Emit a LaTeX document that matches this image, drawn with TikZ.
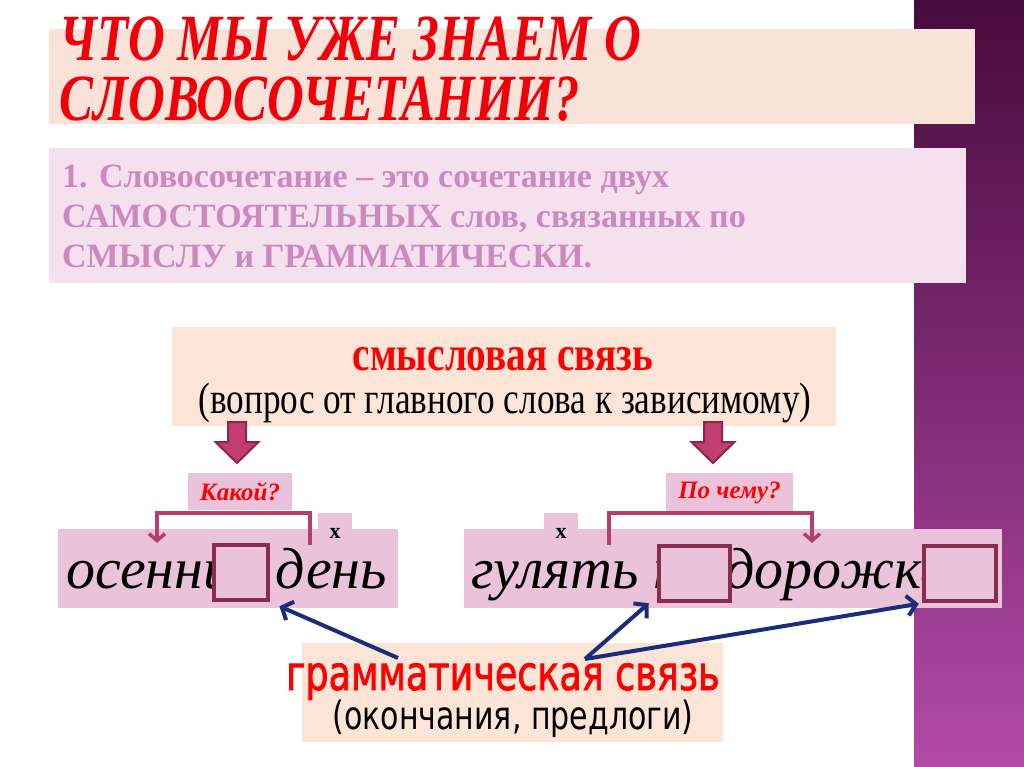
\documentclass[tikz,border=0pt]{standalone}
\usepackage{fontspec}
\setmainfont{Liberation Serif}
\newfontfamily\narrowserif[FakeStretch=0.8]{Liberation Serif}
\newfontfamily\titleserif[FakeStretch=0.77]{Liberation Serif}
\newfontfamily\narrowsans[FakeStretch=0.77]{DejaVu Sans}
\newfontfamily\heavysans[FakeStretch=0.76, FakeBold=1.5]{DejaVu Sans}
\usetikzlibrary{arrows.meta}
\definecolor{titlebg}{HTML}{F9E2D8}
\definecolor{titlered}{HTML}{F2000A}
\definecolor{defbg}{HTML}{F5E0EE}
\definecolor{deftext}{HTML}{CC88BF}
\definecolor{sensebg}{HTML}{FCE5D6}
\definecolor{wordbg}{HTML}{EAC2DA}
\definecolor{endedge}{HTML}{8B2B4F}
\definecolor{bracketc}{HTML}{B63E6C}
\definecolor{arrowfill}{HTML}{C23E6F}
\definecolor{arrowedge}{HTML}{8E2453}
\definecolor{bluec}{HTML}{1A2D78}
\definecolor{stripdark}{HTML}{470A3C}
\definecolor{striplight}{HTML}{B24AA8}
\tikzstyle{panel}=[inner sep=0pt, outer sep=0pt, anchor=north west]
\tikzstyle{qbox}=[fill=wordbg, inner sep=0pt, text=red, font=\bfseries\itshape\fontsize{25}{25}\selectfont]
\tikzstyle{xmark}=[inner sep=0pt, font=\bfseries\fontsize{22}{22}\selectfont]
\tikzstyle{wordtext}=[anchor=base west, inner sep=0pt, font=\itshape\fontsize{58}{58}\selectfont]
\tikzstyle{ending}=[draw=endedge, line width=4.5pt, fill=wordbg, inner sep=0pt]
\tikzstyle{bracket}=[draw=bracketc, line width=3.5pt, -{Straight Barb[length=7pt,width=16pt]}]
\tikzstyle{gramarrow}=[draw=bluec, line width=4pt, -{Straight Barb[length=9pt,width=20pt]}]
\tikzstyle{arrowshape}=[fill=arrowfill, draw=arrowedge, line width=2pt, line join=miter]
\tikzset{blockarrow/.pic={\draw[arrowshape] (-9,0) -- (9,0) -- (9,20) -- (21.5,20) -- (0,41) -- (-21.5,20) -- (-9,20) -- cycle;}}
\newcommand{\panel}{\node[panel]}

\begin{document}
\begin{tikzpicture}[x=1pt, y=-1pt]
\useasboundingbox (0,0) rectangle (1024,767);
\shade[top color=stripdark, bottom color=striplight] (914,0) rectangle (1024,767);
% title
\panel[fill=titlebg, minimum width=926, minimum height=95] (titlebox) at (49,29) {};
\node[anchor=north west, inner sep=0pt, align=left, text=titlered,
      font=\titleserif\bfseries\itshape\fontsize{66}{60}\selectfont] (title) at (59,17)
      {ЧТО МЫ УЖЕ ЗНАЕМ О\\СЛОВОСОЧЕТАНИИ?};
% definition
\panel[fill=defbg, minimum width=917, minimum height=135] (defbox) at (49,148) {};
\node[anchor=north west, inner sep=0pt, align=left, text=deftext,
      font=\bfseries\fontsize{34}{40}\selectfont] (defn) at (62,165)
      {1. Словосочетание – это сочетание двух\\САМОСТОЯТЕЛЬНЫХ слов, связанных по\\СМЫСЛУ и ГРАММАТИЧЕСКИ.};
% meaning link
\panel[fill=sensebg, minimum width=664, minimum height=99] (sensebox) at (172,327) {};
\node[anchor=base, text=red, font=\narrowserif\bfseries\fontsize{49}{49}\selectfont] (sense) at (503,370) {смысловая связь};
\node[anchor=base, font=\narrowserif\fontsize{44}{44}\selectfont] (sensenote) at (505,413) {(вопрос от главного слова к зависимому)};
\pic (arrl) at (237,422) {blockarrow};
\pic (arrr) at (713,422) {blockarrow};
\node[qbox, minimum width=104, minimum height=37] (qleft) at (240,491.5) {Какой?};
\node[qbox, minimum width=127, minimum height=40] (qright) at (729.5,493) {По чему?};
% phrases
\panel[fill=wordbg, minimum width=34, minimum height=20] (tabl) at (318,513) {};
\panel[fill=wordbg, minimum width=34, minimum height=20] (tabr) at (544,513) {};
\panel[fill=wordbg, minimum width=340, minimum height=79] (wordl) at (58,529) {};
\panel[fill=wordbg, minimum width=538, minimum height=79] (wordr) at (464,529) {};
\node[xmark] (xl) at (335,533) {x};
\node[xmark] (xr) at (561,533) {x};
\node[wordtext] (phrasel) at (66,588) {осенний день};
\node[wordtext] (phraser) at (471,588) {гулять по дорожке};
\node[ending, minimum width=54, minimum height=55] (endl) at (241,572.5) {};
\node[ending, minimum width=71, minimum height=55] (endm) at (694.5,573.5) {};
\node[ending, minimum width=72, minimum height=55] (endr) at (960,573.5) {};
\coordinate (bl1) at (310,545);
\coordinate (bl2) at (157,543);
\coordinate (br1) at (609,545);
\coordinate (br2) at (812,543);
\draw[bracket] (bl1) -- ++(0,-32) -| (bl2);
\draw[bracket] (br1) -- ++(0,-32) -| (br2);
% grammar link
\panel[fill=sensebg, minimum width=421, minimum height=99] (grambox) at (302,643) {};
\node[anchor=base, text=red, font=\heavysans\fontsize{48}{48}\selectfont] (gram) at (503,690) {грамматическая связь};
\node[anchor=base, font=\narrowsans\fontsize{39}{39}\selectfont] (gramnote) at (513,729) {(окончания, предлоги)};
\coordinate (gl) at (398,658);
\coordinate (gr) at (585,659);
\draw[gramarrow, shorten >=10pt] (gl) -- (endl.south east);
\draw[gramarrow] (gr) -- ([xshift=-8pt]endm.south west);
\draw[gramarrow, shorten >=3pt] (gr) -- (endr.south west);
\end{tikzpicture}
\end{document}
